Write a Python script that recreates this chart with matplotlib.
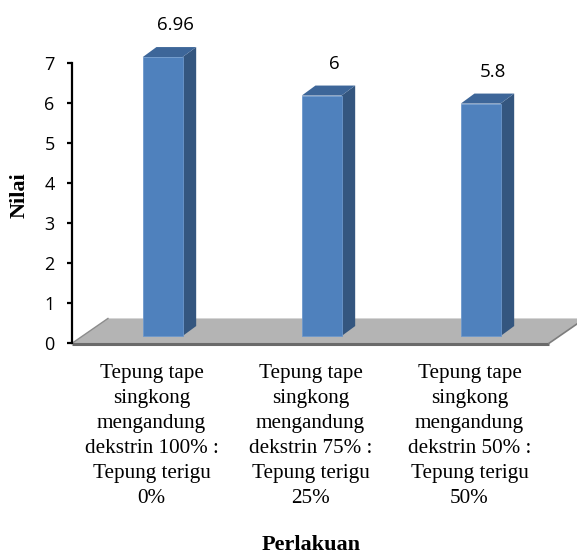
import matplotlib
matplotlib.use("Agg")
import matplotlib.pyplot as plt
from matplotlib.patches import Polygon

# Data
categories = [
    "Tepung tape\nsingkong\nmengandung\ndekstrin 100% :\nTepung terigu\n0%",
    "Tepung tape\nsingkong\nmengandung\ndekstrin 75% :\nTepung terigu\n25%",
    "Tepung tape\nsingkong\nmengandung\ndekstrin 50% :\nTepung terigu\n50%",
]
values = [6.96, 6, 5.8]
value_labels = ["6.96", "6", "5.8"]
y_ticks = [0, 1, 2, 3, 4, 5, 6, 7]

# Colours
FRONT = "#4f81bd"
SIDE = "#34567f"
TOP = "#3d6699"
FLOOR = "#b4b4b4"

W, H = 577, 555
fig = plt.figure(figsize=(W / 100, H / 100), dpi=100)
ax = fig.add_axes([72 / W, (H - 343.3) / H, 477 / W, 280.6 / H])
ax.set_xlim(-0.5, 2.5)
ax.set_ylim(0, 7)

# pseudo-3D floor (depth offsets in data units)
fdx, fdy = 0.226, 0.62
floor = Polygon([(-0.5, 0), (2.5, 0), (2.5 + fdx, fdy), (-0.5 + fdx, fdy)],
                closed=True, facecolor=FLOOR, edgecolor="none",
                clip_on=False, zorder=1)
ax.add_patch(floor)
ax.plot([-0.5, 2.5], [-0.02, -0.02], color="#6a6a6a", lw=2.2,
        clip_on=False, zorder=2, solid_capstyle="butt")
ax.plot([2.5, 2.5 + fdx], [0, fdy], color="#7d7d7d", lw=1.2,
        clip_on=False, zorder=2)
ax.plot([-0.5, -0.5 + fdx], [0, fdy], color="#8c8c8c", lw=1.0,
        clip_on=False, zorder=2)

# 3D bars
shift = 0.07      # bars sit set back on the floor
hw = 0.125        # half width of the front face
bdx, bdy = 0.086, 0.25
base = 0.18
for i, v in enumerate(values):
    c = i + shift
    y0, y1 = base, v + base
    front = Polygon([(c - hw, y0), (c + hw, y0), (c + hw, y1), (c - hw, y1)],
                    facecolor=FRONT, edgecolor="#6d98cc", lw=0.6, zorder=4)
    side = Polygon([(c + hw, y0), (c + hw + bdx, y0 + bdy),
                    (c + hw + bdx, y1 + bdy), (c + hw, y1)],
                   facecolor=SIDE, edgecolor="none", zorder=3)
    top = Polygon([(c - hw, y1), (c + hw, y1), (c + hw + bdx, y1 + bdy),
                   (c - hw + bdx, y1 + bdy)],
                  facecolor=TOP, edgecolor="none", zorder=3)
    for p in (side, top, front):
        p.set_clip_on(False)
        ax.add_patch(p)
    ax.text(i + 0.15, v + 0.97, value_labels[i], ha="center", va="center",
            fontsize=13.5, family="Open Sans", color="black", clip_on=False)

# axes styling
for s in ("top", "right", "bottom"):
    ax.spines[s].set_visible(False)
ax.spines["left"].set_bounds(0, 7)
ax.spines["left"].set_linewidth(1.6)
ax.set_yticks(y_ticks)
ax.set_yticklabels([str(t) for t in y_ticks], family="Open Sans", fontsize=13)
ax.tick_params(axis="y", direction="out", length=3.5, width=1.6, pad=9)

ax.set_xticks(range(len(categories)))
ax.set_xticklabels(categories, family="Liberation Serif", fontsize=15.2,
                   linespacing=1.42)
ax.tick_params(axis="x", length=0, pad=15)

fig.text(311.5 / W, 1 - 545 / H, "Perlakuan", ha="center", va="center",
         family="Liberation Serif", fontweight="bold", fontsize=16)
fig.text(19.5 / W, 1 - 195.5 / H, "Nilai", ha="center", va="center",
         rotation=90, family="Liberation Serif", fontweight="bold", fontsize=16)

fig.savefig("out.png", dpi=100)
